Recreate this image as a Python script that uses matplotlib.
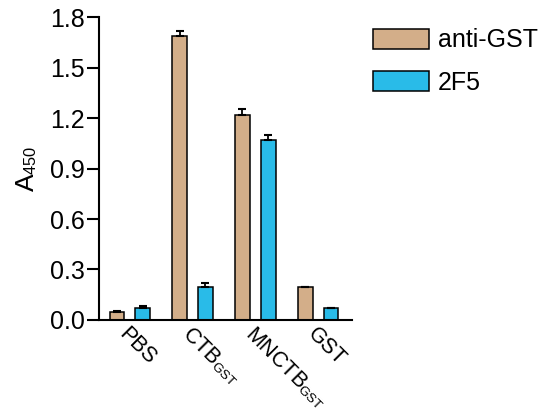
import numpy as np
import matplotlib
matplotlib.use("Agg")
import matplotlib.pyplot as plt
import matplotlib._mathtext as _mt
from matplotlib.transforms import ScaledTranslation

plt.rcParams['font.family'] = ['Liberation Sans', 'DejaVu Sans']
plt.rcParams['mathtext.fontset'] = 'custom'
plt.rcParams['mathtext.rm'] = 'Liberation Sans'
plt.rcParams['mathtext.it'] = 'Liberation Sans'
# smaller, slightly raised subscripts
_mt.SHRINK_FACTOR = 0.62
_mt.FontConstantsBase.subdrop = 0.2
_mt.FontConstantsBase.sub1 = 0.18
_mt.FontConstantsBase.sub2 = 0.3

# ELISA absorbance readings
categories = ['PBS', r'CTB$_{\mathrm{GST}}$', r'MNCTB$_{\mathrm{GST}}$', 'GST']
series_names = ['anti-GST', '2F5']
anti_gst = [0.05, 1.69, 1.22, 0.195]
anti_gst_err = [0.004, 0.03, 0.035, 0.0]
f2f5 = [0.072, 0.195, 1.07, 0.068]
f2f5_err = [0.008, 0.022, 0.032, 0.005]
y_ticks = [0.0, 0.3, 0.6, 0.9, 1.2, 1.5, 1.8]

colors = ['#D3AE89', '#29BBE8']

fig = plt.figure(figsize=(5.44, 4.16), dpi=100)
ax = fig.add_axes([0.182, 0.231, 0.465, 0.727])

x = np.arange(len(categories))
w = 0.235
off = 0.205
for vals, errs, c, name, sign in [(anti_gst, anti_gst_err, colors[0], series_names[0], -1),
                                  (f2f5, f2f5_err, colors[1], series_names[1], 1)]:
    ax.bar(x + sign * off, vals, width=w, color=c, edgecolor='black',
           linewidth=1.1, label=name, zorder=2)
    ax.errorbar(x + sign * off, vals, yerr=[np.zeros(len(vals)), errs],
                fmt='none', ecolor='black', elinewidth=1.3, capsize=3,
                capthick=1.5, zorder=3)

ax.set_xlim(-0.49, 3.54)
ax.set_ylim(0, 1.8)
ax.set_yticks(y_ticks)
ax.set_yticklabels([f'{v:.1f}' for v in y_ticks])
ax.set_xticks(x)
ax.set_xticklabels(categories, rotation=-45, ha='left', va='top',
                   rotation_mode='anchor')
shift = ScaledTranslation(4 / 100, 3 / 100, fig.dpi_scale_trans)
for lbl in ax.get_xticklabels():
    lbl.set_transform(lbl.get_transform() + shift)

for s in ['top', 'right']:
    ax.spines[s].set_visible(False)
for s in ['left', 'bottom']:
    ax.spines[s].set_linewidth(1.5)

ax.tick_params(axis='y', direction='out', length=8.5, width=1.5,
               labelsize=18, pad=2)
ax.tick_params(axis='x', length=0, labelsize=15.5, pad=3)

ax.set_ylabel(r'A$_{\mathrm{450}}$', fontsize=19, labelpad=7)

fig.legend(loc='upper left', bbox_to_anchor=(0.663, 0.962), frameon=False,
           fontsize=18, handlelength=2.25, handleheight=0.85,
           handletextpad=0.35, labelspacing=0.75, borderpad=0)

fig.savefig('out.png', dpi=100)
